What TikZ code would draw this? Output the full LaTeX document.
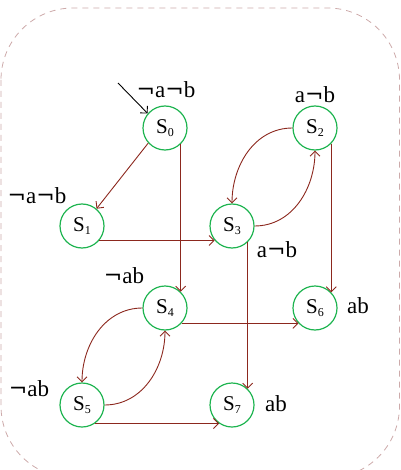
\documentclass[tikz,border=0pt]{standalone}
\usepackage{fontspec}
\setmainfont{Liberation Serif}
\newfontfamily\negfont{DejaVu Serif}
\usetikzlibrary{arrows.meta}
\definecolor{stgreen}{RGB}{30,180,80}
\definecolor{edgered}{RGB}{140,40,30}
\definecolor{frame}{RGB}{205,170,170}
\newcommand{\mynegsign}{{\negfont\fontsize{22}{22}\selectfont ¬}}
\newcommand{\stlab}[1]{S\raisebox{-3pt}{\fontsize{12}{12}\selectfont #1}}
\tikzset{
  state/.style={circle, draw=stgreen, line width=1.2pt, minimum size=44pt, inner sep=0pt, font=\fontsize{21}{21}\selectfont},
  lbl/.style={inner sep=0pt, font=\fontsize{23}{23}\selectfont},
  edge/.style={draw=edgered, line width=0.9pt, -{Straight Barb[length=5pt,width=10pt]}},
}
\begin{document}
\begin{tikzpicture}[x=1pt,y=-1pt]
\useasboundingbox (0,0) rectangle (400,470);
\begin{scope}
\clip (0,0) rectangle (400,470);
\draw[frame, line width=0.8pt, dash pattern=on 6pt off 5pt, rounded corners=72pt] (1,8) rectangle (399.5,478);
\end{scope}
\node[state] (S0) at (165,128) {\stlab{0}};
\node[state] (S1) at (82,226) {\stlab{1}};
\node[state] (S2) at (315,128) {\stlab{2}};
\node[state] (S3) at (232,226) {\stlab{3}};
\node[state] (S4) at (165,308) {\stlab{4}};
\node[state] (S5) at (82,405) {\stlab{5}};
\node[state] (S6) at (315,308) {\stlab{6}};
\node[state] (S7) at (232,405) {\stlab{7}};
\node[lbl] (L0) at (166,90) {\mynegsign a\mynegsign b};
\node[lbl] (L1) at (37,196) {\mynegsign a\mynegsign b};
\node[lbl] (L2) at (315,95) {a\mynegsign b};
\node[lbl] (L3) at (277,250) {a\mynegsign b};
\node[lbl] (L4) at (124,276) {\mynegsign ab};
\node[lbl] (L5) at (29,389) {\mynegsign ab};
\node[lbl] (L6) at (358,306) {ab};
\node[lbl] (L7) at (276,404) {ab};
\coordinate (init) at (118,83);
\draw[line width=0.9pt, -{Straight Barb[length=5pt,width=10pt]}] (init) -- (S0.140);
\draw[edge] (S0.222) -- (S1.50);
\draw[edge] (S0.-46) -- (S4.46);
\draw[edge] (S1.-40) -- (S3.220);
\draw[edge] (S3.-46) -- (S7.46);
\draw[edge] (S2.-44) -- (S6.44);
\draw[edge] (S4.-43) -- (S6.223);
\draw[edge] (S5.-55) -- (S7.235);
\draw[edge] (S2.west) to[out=180,in=90] (S3.north);
\draw[edge] (S3.east) to[out=0,in=-90] (S2.south);
\draw[edge] (S4.west) to[out=180,in=90] (S5.north);
\draw[edge] (S5.east) to[out=0,in=-90] (S4.south);
\end{tikzpicture}
\end{document}
